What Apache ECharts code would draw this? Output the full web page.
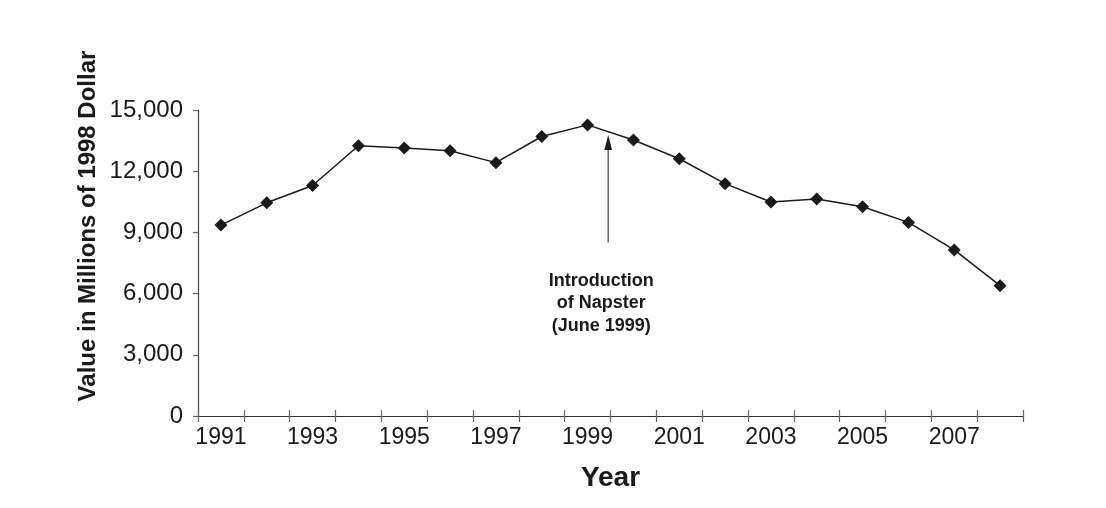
<!DOCTYPE html>
<html>
<head>
<meta charset="utf-8">
<script src="https://cdn.jsdelivr.net/npm/echarts@6/dist/echarts.min.js"></script>
<style>html,body{margin:0;padding:0;background:#fff;}#c{width:1106px;height:508px;}</style>
</head>
<body>
<div id="c"></div>
<script>
var years = ['1991','1992','1993','1994','1995','1996','1997','1998','1999','2000','2001','2002','2003','2004','2005','2006','2007','2008'];
var values = [9360,10450,11300,13250,13140,13000,12420,13700,14270,13530,12610,11390,10490,10640,10260,9490,8140,6390];
var yTicks = [0,3000,6000,9000,12000,15000];
var annotText = ['Introduction', 'of Napster', '(June 1999)'];
var annotIndex = 8.45;      // position between 1999 and 2000 categories (June 1999)
var arrowFrom = 8500;       // arrow base value
var arrowTo = 13780;        // arrow tip value

var FONT = 'Liberation Sans, Arial, Helvetica, sans-serif';
var chart = echarts.init(document.getElementById('c'), null, {renderer: 'canvas'});
var option = {
  animation: false,
  backgroundColor: '#fff',
  grid: {left: 198, right: 83, top: 110, bottom: 92, containLabel: false},
  xAxis: [{
    type: 'category',
    data: years,
    boundaryGap: true,
    position: 'bottom',
    name: 'Year',
    nameLocation: 'middle',
    nameGap: 48,
    nameTextStyle: {fontFamily: FONT, fontWeight: 'bold', fontSize: 28, color: '#1a1a1a'},
    axisLine: {show: true, lineStyle: {color: '#333', width: 1.2}},
    axisTick: {show: true, interval: 0, length: 6, lineStyle: {color: '#666', width: 1.2}},
    axisLabel: {interval: 1, margin: 10, fontFamily: FONT, fontSize: 23, color: '#1a1a1a'},
    splitLine: {show: false}
  }, {
    type: 'category',
    data: years,
    boundaryGap: true,
    position: 'bottom',
    axisLine: {show: false},
    axisTick: {show: true, inside: true, interval: 0, length: 6, lineStyle: {color: '#666', width: 1.2}},
    axisLabel: {show: false},
    splitLine: {show: false}
  }],
  yAxis: {
    type: 'value',
    min: 0, max: 15000, interval: 3000,
    axisLine: {show: true, lineStyle: {color: '#444', width: 1.2}},
    axisTick: {show: true, length: 5, lineStyle: {color: '#666', width: 1.2}},
    axisLabel: {
      margin: 15, fontFamily: FONT, fontSize: 24, color: '#1a1a1a',
      formatter: function (v) { return yTicks.indexOf(v) >= 0 ? v.toLocaleString('en-US') : ''; }
    },
    splitLine: {show: false}
  },
  series: [{
    type: 'line',
    data: values,
    xAxisIndex: 0,
    symbol: 'diamond',
    symbolSize: 13,
    showAllSymbol: true,
    lineStyle: {color: '#1a1a1a', width: 1.5},
    itemStyle: {color: '#1a1a1a'}
  }]
};
chart.setOption(option);

function drawAnnotation() {
  var p0 = chart.convertToPixel({xAxisIndex: 0, yAxisIndex: 0}, [Math.floor(annotIndex), arrowFrom]);
  var p1 = chart.convertToPixel({xAxisIndex: 0, yAxisIndex: 0}, [Math.floor(annotIndex) + 1, arrowTo]);
  var frac = annotIndex - Math.floor(annotIndex);
  var x = p0[0] + (p1[0] - p0[0]) * frac;
  var yBase = p0[1];
  var yTip = p1[1];
  chart.setOption({
    graphic: [
      {type: 'line', shape: {x1: x, y1: yBase, x2: x, y2: yTip + 10}, style: {stroke: '#666', lineWidth: 1.5}},
      {type: 'polygon', shape: {points: [[x, yTip], [x - 3.8, yTip + 15], [x + 3.8, yTip + 15]]}, style: {fill: '#1a1a1a'}},
      {type: 'text', x: x - 7, y: yBase + 27,
        style: {text: annotText.join('\n'), font: 'bold 18px ' + FONT, fill: '#1a1a1a', align: 'center', verticalAlign: 'top', lineHeight: 22.5}},
      {type: 'text', x: 88, y: 226, rotation: Math.PI / 2,
        style: {text: 'Value in Millions of 1998 Dollar', font: 'bold 24px ' + FONT, fill: '#1a1a1a', align: 'center', verticalAlign: 'middle'}}
    ]
  });
}
drawAnnotation();
</script>
</body>
</html>
